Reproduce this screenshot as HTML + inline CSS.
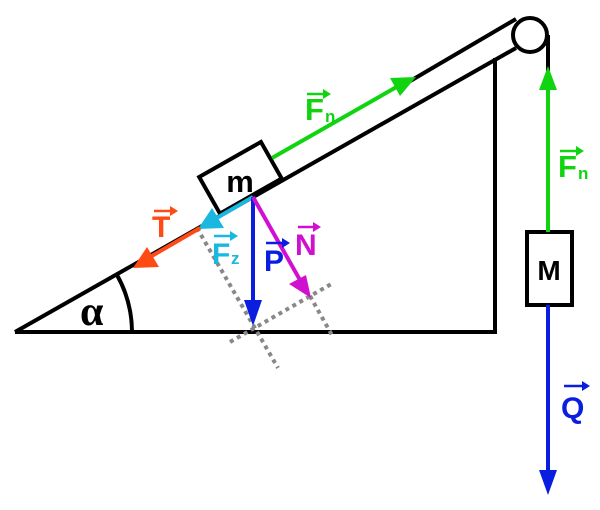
<!DOCTYPE html>
<html><head><style>body{margin:0;background:#fff}svg{display:block}</style></head><body>
<svg width="600" height="510" viewBox="0 0 600 510" xmlns="http://www.w3.org/2000/svg" font-family="Liberation Sans, sans-serif" font-weight="bold">
<g stroke="#000" stroke-width="4" fill="none">
<line x1="15" y1="332" x2="497" y2="332"/>
<line x1="495" y1="58" x2="495" y2="334"/>
<line x1="15" y1="332" x2="516" y2="48"/>
<line x1="400" y1="87" x2="516" y2="19"/>
<circle cx="530" cy="35" r="17" fill="#fff"/>
<line x1="548" y1="35" x2="548" y2="80"/>
<path d="M132,332 A117,117 0 0 0 117,275"/>
<rect x="205" y="157" width="71" height="42" transform="rotate(-29.6 240 178)" fill="#fff"/>
<rect x="527" y="232" width="45" height="73" fill="#fff"/>
</g>
<g stroke="#888" stroke-width="4" stroke-dasharray="4 4" fill="none">
<line x1="197" y1="228" x2="278" y2="368"/>
<line x1="230" y1="342" x2="333" y2="283"/>
<line x1="310" y1="296" x2="333" y2="337"/>
</g>
<line x1="272" y1="158" x2="400" y2="85" stroke="#11d411" stroke-width="4"/>
<polygon points="416,77 390,78 400,96" fill="#11d411"/>
<line x1="548" y1="232" x2="548" y2="85" stroke="#11d411" stroke-width="4"/>
<polygon points="548,66 539,90 557,90" fill="#11d411"/>
<line x1="548" y1="305" x2="548" y2="475" stroke="#0a1ee0" stroke-width="4"/>
<polygon points="548,495 539,470 557,470" fill="#0a1ee0"/>
<line x1="253" y1="197" x2="215" y2="219" stroke="#1ab8e0" stroke-width="4"/>
<polygon points="198,229 224,228 212,208" fill="#1ab8e0"/>
<line x1="200" y1="228" x2="150" y2="257" stroke="#ff4a14" stroke-width="4"/>
<polygon points="133,268 159,267 147,247" fill="#ff4a14"/>
<line x1="253" y1="197" x2="253" y2="305" stroke="#0a1ee0" stroke-width="4"/>
<polygon points="253,326 244,300 262,300" fill="#0a1ee0"/>
<line x1="253" y1="197" x2="300" y2="280" stroke="#d010d0" stroke-width="4"/>
<polygon points="311,298 289,284 306,275" fill="#d010d0"/>
<text x="240" y="192" font-size="31" text-anchor="middle" fill="#000">m</text>
<text x="549" y="280" font-size="28" text-anchor="middle" fill="#000">M</text>
<text x="80" y="325" font-size="42" font-family="Liberation Serif, serif" fill="#000">α</text>
<g fill="#11d411"><text x="305" y="120" font-size="31">F</text><text x="325" y="122" font-size="17">n</text><path d="M307,94h20" stroke="#11d411" stroke-width="2.5"/><polygon points="331,94 323,89 323,99"/></g>
<g fill="#11d411"><text x="558" y="177" font-size="31">F</text><text x="578" y="179" font-size="17">n</text><path d="M560,151h20" stroke="#11d411" stroke-width="2.5"/><polygon points="584,151 576,146 576,156"/></g>
<g fill="#ff4a14"><text x="152" y="237" font-size="30">T</text><path d="M154,211h17" stroke="#ff4a14" stroke-width="2.5"/><polygon points="178,211 170,206 170,216"/></g>
<g fill="#1ab8e0"><text x="212" y="264" font-size="30">F</text><text x="231" y="264" font-size="17">z</text><path d="M214,236h20" stroke="#1ab8e0" stroke-width="2.5"/><polygon points="238,236 230,231 230,241"/></g>
<g fill="#0a1ee0"><text x="264" y="271" font-size="30">P</text><path d="M266,243h17" stroke="#0a1ee0" stroke-width="2.5"/><polygon points="290,243 282,238 282,248"/></g>
<g fill="#d010d0"><text x="295" y="255" font-size="30">N</text><path d="M298,227h18" stroke="#d010d0" stroke-width="2.5"/><polygon points="321,227 313,222 313,232"/></g>
<g fill="#0a1ee0"><text x="561" y="418" font-size="30">Q</text><path d="M564,386h19" stroke="#0a1ee0" stroke-width="2.5"/><polygon points="590,386 582,381 582,391"/></g>
</svg>
</body></html>
